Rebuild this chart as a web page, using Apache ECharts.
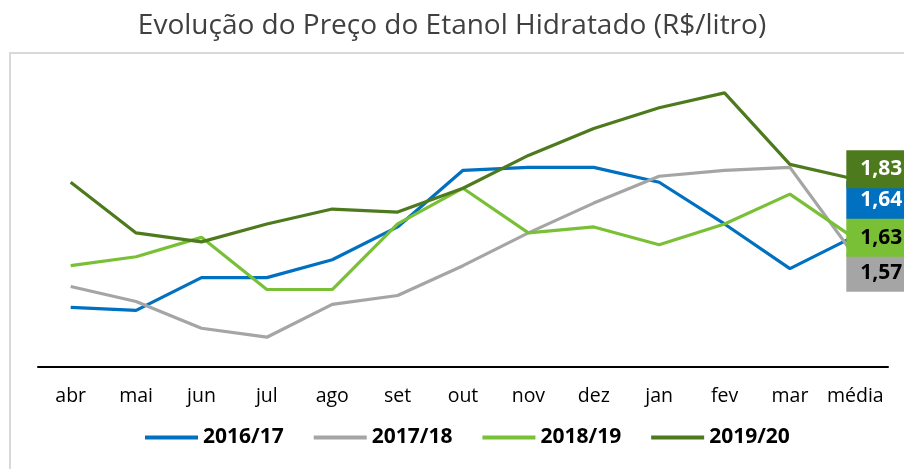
<!DOCTYPE html>
<html>
<head>
<meta charset="utf-8">
<script src="https://cdn.jsdelivr.net/npm/echarts@6/dist/echarts.min.js"></script>
<style>
  html, body { margin: 0; padding: 0; background: #fff; }
  #precoEtanol { width: 904px; height: 469px; }
</style>
</head>
<body>
<div id="precoEtanol"></div>
<script>
// meses da safra + média
const categorias = ['abr', 'mai', 'jun', 'jul', 'ago', 'set', 'out', 'nov', 'dez', 'jan', 'fev', 'mar', 'média']
const safra1617 = [1.40, 1.39, 1.50, 1.50, 1.56, 1.67, 1.86, 1.87, 1.87, 1.82, 1.68, 1.53, 1.64]
const safra1718 = [1.47, 1.42, 1.33, 1.30, 1.41, 1.44, 1.54, 1.65, 1.75, 1.84, 1.86, 1.87, 1.57]
const safra1819 = [1.54, 1.57, 1.635, 1.46, 1.46, 1.68, 1.80, 1.65, 1.67, 1.61, 1.68, 1.78, 1.63]
const safra1920 = [1.82, 1.65, 1.62, 1.68, 1.73, 1.72, 1.80, 1.91, 2.00, 2.07, 2.12, 1.88, 1.83]

const fonte = '"Open Sans", "Noto Sans", sans-serif'

// rótulo da média (caixa colorida à direita)
function rotuloMedia (fundo, corTexto, dy) {
  return {
    show: true,
    formatter: function (p) {
      const v = Array.isArray(p.value) ? p.value[1] : p.value
      return Number(v).toFixed(2).replace('.', ',')
    },
    distance: 0,
    offset: [-9, dy],
    align: 'left',
    verticalAlign: 'middle',
    backgroundColor: fundo,
    color: corTexto,
    fontFamily: fonte,
    fontWeight: 'bold',
    fontSize: 21,
    lineHeight: 20,
    padding: [9, 20, 9, 14]
  }
}

function serie (nome, dados, cor, rotulo) {
  return {
    name: nome,
    type: 'line',
    data: dados,
    symbol: 'none',
    lineStyle: { color: cor, width: 3.2 },
    itemStyle: { color: cor },
    endLabel: rotulo,
    z: 2
  }
}

const chart = echarts.init(document.getElementById('precoEtanol'))
const option = {
  backgroundColor: '#fff',
  animation: false,
  title: {
    text: 'Evolução do Preço do Etanol Hidratado (R$/litro)',
    left: 'center',
    top: 7,
    textStyle: {
      fontFamily: fonte,
      fontWeight: 'normal',
      fontSize: 28,
      color: '#404040'
    }
  },
  graphic: [{
    type: 'rect',
    shape: { x: 10, y: 53, width: 1000, height: 1000 },
    style: { fill: 'none', stroke: '#d9d9d9', lineWidth: 2 },
    silent: true,
    z: -1
  }],
  legend: {
    data: ['2016/17', '2017/18', '2018/19', '2019/20'],
    left: 140,
    top: 422,
    icon: 'rect',
    itemWidth: 53,
    itemHeight: 4,
    itemGap: 30,
    textStyle: {
      fontFamily: fonte,
      fontWeight: 'bold',
      fontSize: 21,
      color: '#000'
    }
  },
  grid: {
    left: 38,
    right: 16,
    top: 69,
    bottom: 102
  },
  xAxis: {
    type: 'category',
    data: categorias,
    boundaryGap: true,
    axisLine: { show: true, lineStyle: { color: '#000', width: 2 } },
    axisTick: { show: false },
    axisLabel: {
      margin: 19,
      color: '#000',
      fontFamily: fonte,
      fontSize: 19.5,
      interval: 0
    }
  },
  yAxis: {
    type: 'value',
    min: 1.2,
    max: 2.2,
    show: false,
    splitLine: { show: false }
  },
  series: [
    serie('2016/17', safra1617, '#0070C0', rotuloMedia('#0070C0', '#fff', -36)),
    serie('2017/18', safra1718, '#A5A5A5', rotuloMedia('#A5A5A5', '#000', 16)),
    serie('2018/19', safra1819, '#7AC036', rotuloMedia('#7AC036', '#000', -1)),
    serie('2019/20', safra1920, '#4E7A1E', rotuloMedia('#4E7A1E', '#fff', -10))
  ]
}
chart.setOption(option)
</script>
</body>
</html>
